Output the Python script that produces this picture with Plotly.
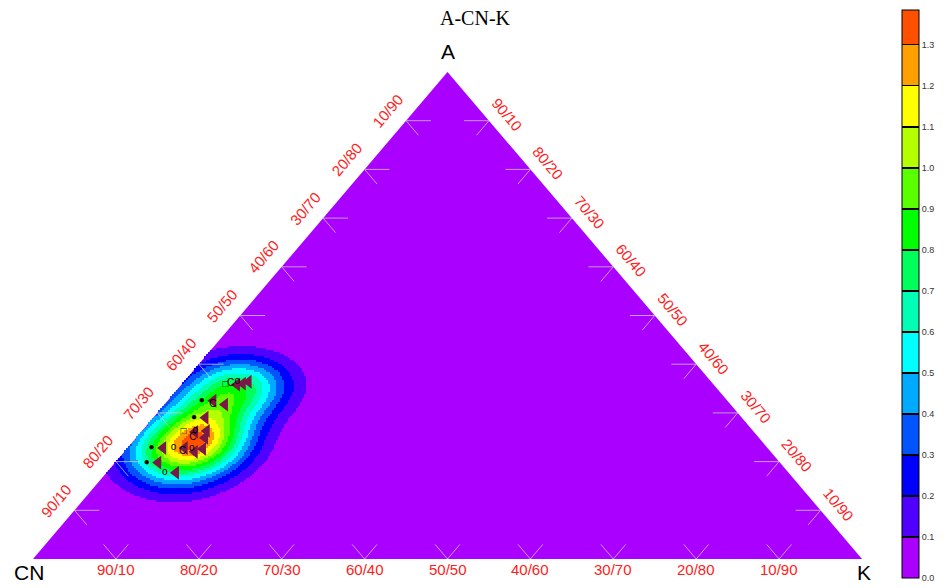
import numpy as np
import plotly.graph_objects as go

# ---------------- data (percent) ----------------
A_pct = [36.4, 36.0, 35.8, 32.5, 31.7, 29.0, 26.1, 24.9, 22.6, 22.0, 22.8, 22.8, 19.8, 17.7, 26.3]
CN_pct = [55.8, 56.7, 57.5, 62.0, 61.0, 64.7, 67.4, 66.8, 68.2, 69.5, 70.3, 72.9, 75.0, 73.9, 65.9]
K_pct = [7.8, 7.3, 6.7, 5.5, 7.3, 6.3, 6.5, 8.3, 9.2, 8.5, 6.9, 4.3, 5.2, 8.4, 7.8]
point_tags = ["o", "C", "□", "●", "C", "●", "□", "C", "o", "C", "o", "●", "●", "o", "o"]

tick_steps = [10, 20, 30, 40, 50, 60, 70, 80, 90]
level_edges = [0.0, 0.1, 0.2, 0.3, 0.4, 0.5, 0.6, 0.7, 0.8, 0.9, 1.0, 1.1, 1.2, 1.3]
level_colors = ["#aa00ff", "#5000ff", "#0000ff", "#0055ff", "#00aaff", "#00ffff", "#00ffb4",
                "#00ff5a", "#00ff00", "#5aff00", "#b4ff00", "#ffff00", "#ffa000", "#ff5000"]
z_top = 1.385
peak_value = 1.36

# ---------------- geometry helpers ----------------
PX_W, PX_H = 829.0, 487.0  # pixel size of triangle base/height
SQ3 = np.sqrt(3) / 2


def to_xy(a, cn, k):
    s = a + cn + k
    a, k = a / s, k / s
    return k + 0.5 * a, a


A = np.array(A_pct); CN = np.array(CN_pct); K = np.array(K_pct)
px, py = to_xy(A, CN, K)

# ---------------- density field (KDE in ternary geometry) ----------------
step = 2.0
xs = np.arange(0, 1 + 1e-9, step / PX_W)
ys = np.arange(0, 1 + 1e-9, step / PX_H)
XX, YY = np.meshgrid(xs, ys)
GX, GY = XX, YY * SQ3  # equilateral coordinates
bw_x, bw_y = 0.040, 0.035
dens = np.zeros_like(XX)
for xi, yi in zip(px, py):
    dens += np.exp(-((GX - xi) ** 2 / (2 * bw_x ** 2) + (GY - yi * SQ3) ** 2 / (2 * bw_y ** 2)))
inside = (YY <= 2 * XX + 1e-9) & (YY <= 2 * (1 - XX) + 1e-9)
dens = dens / dens[inside].max() * peak_value
Z = np.where(inside & (dens >= 0.1), dens, np.nan)

cs = []
for i, c in enumerate(level_colors):
    lo = level_edges[i] / z_top
    hi = (level_edges[i + 1] / z_top) if i + 1 < len(level_edges) else 1.0
    cs.append([lo, c]); cs.append([hi, c])

# colorbar scale with thin black separators
eps = 0.0011
cs_bar = []
for i, c in enumerate(level_colors):
    lo = level_edges[i] / z_top
    hi = (level_edges[i + 1] / z_top) if i + 1 < len(level_edges) else 1.0
    lo_c = lo + eps if i > 0 else lo
    hi_c = hi - eps if i + 1 < len(level_edges) else hi
    cs_bar.append([lo_c, c]); cs_bar.append([hi_c, c])
    if i + 1 < len(level_edges):
        cs_bar.append([hi_c, "black"]); cs_bar.append([hi + eps, "black"])

fig = go.Figure()

# triangle background
vx, vy = to_xy(np.array([0, 0, 100, 0]), np.array([100, 0, 0, 100]), np.array([0, 100, 0, 0]))
path = "M " + " L ".join(f"{x},{y}" for x, y in zip(vx, vy)) + " Z"
fig.add_shape(type="path", path=path, fillcolor=level_colors[0], line=dict(width=0), layer="below")

fig.add_trace(go.Heatmap(
    x=xs, y=ys, z=Z, zmin=0, zmax=z_top, colorscale=cs, zsmooth=False, hoverinfo="skip",
    showscale=False))

# colorbar holder
fig.add_trace(go.Scatter(
    x=[None], y=[None], mode="markers", showlegend=False, hoverinfo="skip",
    marker=dict(color=[0], cmin=0, cmax=z_top, colorscale=cs_bar, showscale=True,
                colorbar=dict(
                    x=902 / 944, xanchor="left", xpad=0, y=0.5, yanchor="middle", ypad=0,
                    thickness=17, lenmode="pixels", len=568,
                    tickvals=level_edges, ticktext=[f"{v:.1f}" for v in level_edges],
                    ticks="", outlinecolor="black", outlinewidth=1,
                    tickfont=dict(family="Liberation Sans", size=9, color="#333333"),
                ))))

# ---------------- tick marks ----------------
d = 3.0
lx, ly = [], []
for t in tick_steps:
    segs = [((0, 100 - t, t), (d, 100 - t - d, t)), ((0, 100 - t, t), (d, 100 - t, t - d)),
            ((t, 100 - t, 0), (t, 100 - t - d, d)), ((t, 100 - t, 0), (t - d, 100 - t, d)),
            ((t, 0, 100 - t), (t, d, 100 - t - d)), ((t, 0, 100 - t), (t - d, d, 100 - t))]
    for p0, p1 in segs:
        x0, y0 = to_xy(*p0); x1, y1 = to_xy(*p1)
        lx += [x0, x1, None]; ly += [y0, y1, None]
fig.add_trace(go.Scatter(x=lx, y=ly, mode="lines", line=dict(color="rgba(205,205,205,0.75)", width=1),
                         hoverinfo="skip", showlegend=False))

# ---------------- data points ----------------
fig.add_trace(go.Scatter(
    x=px, y=py, mode="markers+text", text=point_tags, textposition="middle left",
    textfont=dict(family="Liberation Sans", size=10, color="black"),
    marker=dict(symbol="triangle-left", size=12, color="#7a1848", line=dict(width=0)),
    showlegend=False, hoverinfo="skip"))

# ---------------- labels ----------------
red = dict(family="Liberation Sans", size=15, color="#ff2020")
ang = float(np.degrees(np.arctan2(PX_H, PX_W / 2)))
for t in tick_steps:
    x, y = to_xy(0, 100 - t, t)
    fig.add_annotation(x=x, y=y, text=f"{100 - t}/{t}", showarrow=False, font=red, yshift=-10)
    x, y = to_xy(t, 100 - t, 0)
    fig.add_annotation(x=x, y=y, text=f"{100 - t}/{t}", showarrow=False, font=red,
                       textangle=-ang, xshift=-18, yshift=10)
    x, y = to_xy(t, 0, 100 - t)
    fig.add_annotation(x=x, y=y, text=f"{t}/{100 - t}", showarrow=False, font=red,
                       textangle=ang, xshift=18, yshift=6)

vfont = dict(family="Liberation Sans", size=21, color="black")
x, y = to_xy(100, 0, 0)
fig.add_annotation(x=x, y=y, text="A", showarrow=False, font=vfont, yshift=21)
x, y = to_xy(0, 100, 0)
fig.add_annotation(x=x, y=y, text="CN", showarrow=False, font=vfont, xshift=-4, yshift=-13)
x, y = to_xy(0, 0, 100)
fig.add_annotation(x=x, y=y, text="K", showarrow=False, font=vfont, xshift=2, yshift=-13)

fig.add_annotation(xref="paper", yref="paper", x=475 / 944, y=1 - 18 / 588, text="A-CN-K",
                   xanchor="center", yanchor="middle", showarrow=False,
                   font=dict(family="Liberation Serif", size=20, color="black"))

fig.update_layout(
    width=944, height=588, margin=dict(l=0, r=0, t=0, b=0),
    paper_bgcolor="white", plot_bgcolor="white", showlegend=False,
    xaxis=dict(range=[-33 / PX_W, (944 - 33) / PX_W], visible=False, fixedrange=True),
    yaxis=dict(range=[-(588 - 559) / PX_H, 559 / PX_H], visible=False, fixedrange=True),
)
fig.write_html("out.html", config={"displayModeBar": False},
               post_script="document.body.style.margin='0px';")
